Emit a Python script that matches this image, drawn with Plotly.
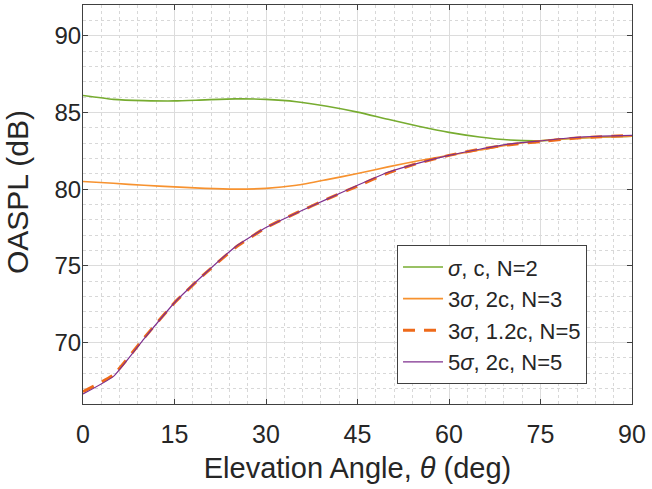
import plotly.graph_objects as go

theta = [0, 5, 10, 15, 20, 25, 30, 35, 40, 45, 50, 55, 60, 65, 70, 75, 80, 85, 90]
s1 = [86.1, 85.85, 85.77, 85.75, 85.82, 85.88, 85.85, 85.7, 85.4, 85.02, 84.55, 84.1, 83.7, 83.4, 83.2, 83.15, 83.3, 83.4, 83.45]
s2 = [80.5, 80.38, 80.25, 80.15, 80.05, 80.0, 80.05, 80.25, 80.62, 81.02, 81.45, 81.85, 82.2, 82.55, 82.9, 83.15, 83.3, 83.4, 83.45]
s3 = [66.8, 67.9, 70.3, 72.6, 74.5, 76.2, 77.5, 78.45, 79.35, 80.2, 81.05, 81.7, 82.2, 82.6, 82.9, 83.1, 83.3, 83.42, 83.5]
s4 = [66.65, 67.8, 70.25, 72.6, 74.5, 76.25, 77.5, 78.45, 79.35, 80.25, 81.1, 81.7, 82.2, 82.6, 82.95, 83.15, 83.35, 83.45, 83.5]
names = ["<i>σ</i>, c, N=2", "3<i>σ</i>, 2c, N=3", "3<i>σ</i>, 1.2c, N=5", "5<i>σ</i>, 2c, N=5"]
x_ticks = [0, 15, 30, 45, 60, 75, 90]
y_ticks = [70, 75, 80, 85, 90]
x_title = "Elevation Angle, <i>θ</i> (deg)"
y_title = "OASPL (dB)"

FONT = "Liberation Sans, Arial"
TXT = "#262626"

fig = go.Figure()
fig.add_trace(go.Scatter(x=theta, y=s1, name=names[0], mode="lines",
                         line=dict(color="#77AC30", width=1.6, shape="spline", smoothing=0.6)))
fig.add_trace(go.Scatter(x=theta, y=s2, name=names[1], mode="lines",
                         line=dict(color="#F7922F", width=1.6, shape="spline", smoothing=0.6)))
fig.add_trace(go.Scatter(x=theta, y=s3, name=names[2], mode="lines",
                         line=dict(color="#EE6A1A", width=3, dash="12px,9px", shape="spline", smoothing=0.4)))
fig.add_trace(go.Scatter(x=theta, y=s4, name=names[3], mode="lines",
                         line=dict(color="#7E2F8E", width=1.2, shape="spline", smoothing=0.4)))

axis_common = dict(
    showline=True, linecolor="#404040", linewidth=1, mirror="ticks",
    ticks="inside", ticklen=5, tickcolor="#404040",
    showgrid=True, gridcolor="#DCDCDC", gridwidth=1,
    zeroline=False,
)

fig.update_xaxes(
    range=[0, 90], tickvals=x_ticks,
    tickfont=dict(family=FONT, size=25, color=TXT),
    ticklabelstandoff=8,
    title=dict(text=x_title, font=dict(family=FONT, size=29, color=TXT), standoff=10),
    minor=dict(dtick=3, showgrid=True, gridcolor="#D8D8D8", griddash="dot", gridwidth=1, ticks=""),
    **axis_common,
)
fig.update_yaxes(
    range=[66, 92], tickvals=y_ticks,
    tickfont=dict(family=FONT, size=24, color=TXT),
    ticklabelstandoff=-4,
    minor=dict(dtick=1, showgrid=True, gridcolor="#D8D8D8", griddash="dot", gridwidth=1, ticks=""),
    **axis_common,
)

fig.add_annotation(
    text=y_title, textangle=-90, showarrow=False,
    xref="paper", yref="paper",
    x=(17 - 83) / 549, y=(404 - 192) / 399,
    xanchor="center", yanchor="middle",
    font=dict(family=FONT, size=30, color=TXT),
)

fig.update_layout(
    width=652, height=489,
    margin=dict(l=83, r=20, t=5, b=85),
    paper_bgcolor="white", plot_bgcolor="white",
    showlegend=True,
    legend=dict(
        x=0.572, y=0.398, xanchor="left", yanchor="top",
        bgcolor="white", bordercolor="#404040", borderwidth=1,
        font=dict(family=FONT, size=22, color=TXT),
        tracegroupgap=0, itemwidth=40,
    ),
)

fig.write_html("out.html")
